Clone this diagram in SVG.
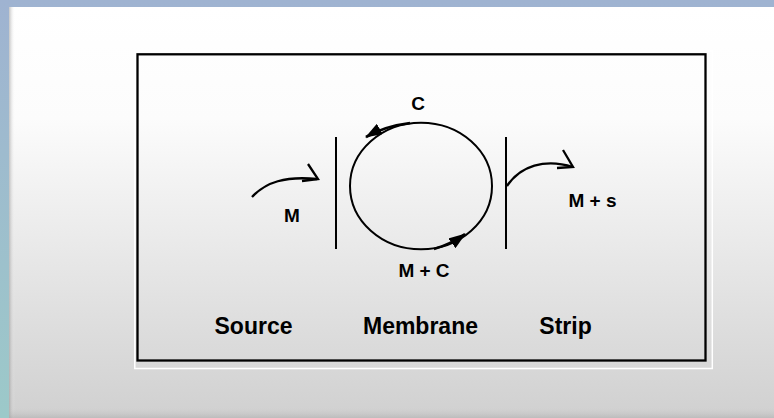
<svg xmlns="http://www.w3.org/2000/svg" width="774" height="418" viewBox="0 0 774 418">
  <defs>
    <linearGradient id="frameGrad" x1="0" y1="0" x2="0" y2="1">
      <stop offset="0" stop-color="#9fb3d1"/>
      <stop offset="1" stop-color="#9cc9c9"/>
    </linearGradient>
    <linearGradient id="panelGrad" x1="0" y1="0" x2="0" y2="1">
      <stop offset="0" stop-color="#ffffff"/>
      <stop offset="0.27" stop-color="#fcfcfc"/>
      <stop offset="1" stop-color="#d0d0d0"/>
    </linearGradient>
    <linearGradient id="leftBevel" x1="0" y1="0" x2="1" y2="0">
      <stop offset="0" stop-color="#8a8a8a" stop-opacity="0.5"/>
      <stop offset="1" stop-color="#ffffff" stop-opacity="0"/>
    </linearGradient>
    <linearGradient id="bottomBevel" x1="0" y1="0" x2="0" y2="1">
      <stop offset="0" stop-color="#c8c8c8" stop-opacity="0"/>
      <stop offset="1" stop-color="#a8a8a8" stop-opacity="0.5"/>
    </linearGradient>
    <marker id="head" markerUnits="userSpaceOnUse" markerWidth="18" markerHeight="12" refX="16" refY="6" orient="auto">
      <path d="M0,0 L17,6 L0,12 Z" fill="#000"/>
    </marker>
    <style>
      .line { fill: none; stroke: #000; stroke-width: 2; }
      .curve { fill: none; stroke: #000; stroke-width: 2.3; }
      .flow { fill: none; stroke: #000; stroke-width: 2.6; }
      .lbl { font-family: "Liberation Sans", Arial, sans-serif; font-weight: bold; fill: #000; text-anchor: middle; }
      .small { font-size: 19px; }
      .big { font-size: 23px; }
    </style>
  </defs>

  <!-- slide frame and panel -->
  <rect x="0" y="0" width="774" height="418" fill="url(#frameGrad)"/>
  <rect x="9" y="7" width="765" height="411" fill="url(#panelGrad)"/>
  <rect x="9" y="7" width="6" height="411" fill="url(#leftBevel)"/>
  <rect x="9" y="408" width="765" height="10" fill="url(#bottomBevel)"/>

  <!-- diagram frame -->
  <g id="frame">
    <rect x="134.8" y="51" width="577.5" height="317.5" fill="none" stroke="#ffffff" stroke-width="1.5"/>
    <rect x="137.5" y="54.3" width="568" height="306.2" fill="none" stroke="#000" stroke-width="2.3"/>
  </g>

  <!-- membrane walls -->
  <g id="membrane-left"><line class="line" x1="336" y1="137" x2="336" y2="249"/></g>
  <g id="membrane-right"><line class="line" x1="506" y1="137" x2="506" y2="249"/></g>

  <!-- carrier cycle -->
  <g id="cycle">
    <ellipse class="line" cx="421" cy="186" rx="71" ry="63.3"/>
  </g>

  <g id="connectors">
    <!-- carrier C returning across the top -->
    <path class="flow" d="M410,123 Q385,126 366,137" marker-end="url(#head)"/>
    <!-- complex M + C moving across the bottom -->
    <path class="flow" d="M434,249 Q451,244 465,234" marker-end="url(#head)"/>
    <!-- feed M entering -->
    <path class="curve" d="M252,197 C266,182 285,176 317,179"/>
    <path class="curve" d="M308,164 L318,179 L302,181"/>
    <!-- strip M + s leaving -->
    <path class="curve" d="M507,186 C520,166 545,158 573,167"/>
    <path class="curve" d="M563,150 L573,167 L557,168"/>
  </g>

  <!-- labels -->
  <g id="labels">
    <text class="lbl small" x="418" y="110">C</text>
    <text class="lbl small" x="292" y="221.5">M</text>
    <text class="lbl small" x="424" y="277">M + C</text>
    <text class="lbl small" x="592.5" y="206.5">M + s</text>
    <text class="lbl big" x="253.5" y="334">Source</text>
    <text class="lbl big" x="420.5" y="334">Membrane</text>
    <text class="lbl big" x="565.5" y="334">Strip</text>
  </g>
</svg>
